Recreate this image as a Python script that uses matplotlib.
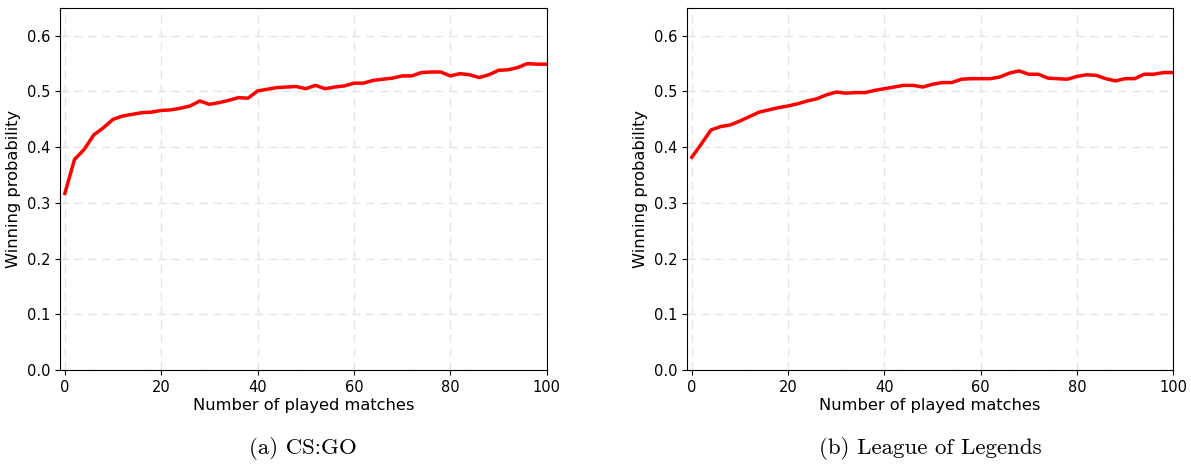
import matplotlib
matplotlib.use('Agg')
import matplotlib.pyplot as plt
import numpy as np

plt.rcParams['axes.formatter.use_mathtext'] = False

matches = np.arange(0, 101, 2)

csgo_prob = [0.317, 0.378, 0.396, 0.422, 0.435, 0.450, 0.456, 0.459, 0.462, 0.463,
             0.466, 0.467, 0.470, 0.474, 0.483, 0.477, 0.480, 0.484, 0.489, 0.488,
             0.501, 0.504, 0.507, 0.508, 0.509, 0.505, 0.511, 0.505, 0.508, 0.510,
             0.515, 0.515, 0.520, 0.522, 0.524, 0.528, 0.528, 0.534, 0.535, 0.535,
             0.528, 0.532, 0.530, 0.525, 0.530, 0.538, 0.539, 0.543, 0.550, 0.549,
             0.549]

lol_prob = [0.382, 0.406, 0.431, 0.437, 0.440, 0.447, 0.455, 0.463, 0.467, 0.471,
            0.474, 0.478, 0.483, 0.487, 0.494, 0.499, 0.497, 0.498, 0.498, 0.502,
            0.505, 0.508, 0.511, 0.511, 0.508, 0.513, 0.516, 0.516, 0.522, 0.523,
            0.523, 0.523, 0.526, 0.533, 0.537, 0.531, 0.531, 0.524, 0.523, 0.522,
            0.527, 0.530, 0.529, 0.523, 0.519, 0.523, 0.523, 0.531, 0.531, 0.534,
            0.534]

captions = ['(a) CS:GO', '(b) League of Legends']

fig = plt.figure(figsize=(11.91, 4.65), dpi=100)
ax1 = fig.add_axes([0.0504, 0.204, 0.4086, 0.779])
ax2 = fig.add_axes([0.5768, 0.204, 0.4082, 0.779])

for ax, data, cap in zip([ax1, ax2], [csgo_prob, lol_prob], captions):
    ax.plot(matches, data, color='red', linewidth=2.5)
    ax.set_xlim(-1, 100)
    ax.set_ylim(0, 0.65)
    ax.set_xticks([0, 20, 40, 60, 80, 100])
    ax.set_yticks(np.arange(0, 0.61, 0.1))
    ax.grid(True, linestyle=(0, (6, 4)), color='#e4e4e4', linewidth=1)
    ax.set_axisbelow(True)
    ax.tick_params(labelsize=10.5)
    ax.set_xlabel('Number of played matches', fontsize=11.7, labelpad=2)
    ax.set_ylabel('Winning probability', fontsize=11.7)
    ax.text(0.5, -0.185, cap, transform=ax.transAxes, ha='center', va='top',
            fontsize=16.5, family='cmr10')

fig.savefig('out.png', dpi=100)
